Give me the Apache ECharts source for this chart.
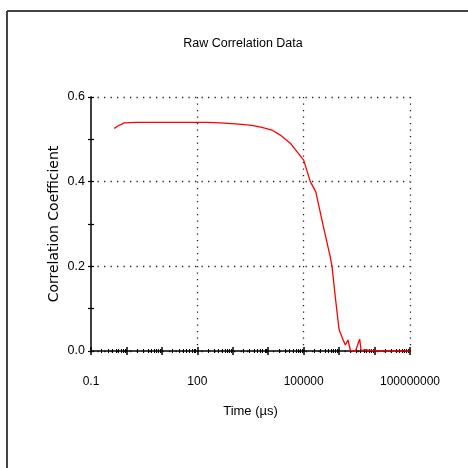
<!DOCTYPE html>
<html>
<head>
<meta charset="utf-8">
<script src="https://cdn.jsdelivr.net/npm/echarts@6/dist/echarts.min.js"></script>
<style>html,body{margin:0;padding:0;background:#fff;}#chart{width:468px;height:468px;}</style>
</head>
<body>
<div id="chart"></div>
<script>
// Lag time in microseconds
const timeUs = [0.45, 0.59, 0.87, 2, 10, 50, 200, 440, 480, 1500, 3470, 6640, 12700, 21900, 41900, 64800,
  100000, 154000, 220000, 360000, 560000, 630000, 780000, 1000000, 1300000, 1500000, 1780000, 2100000,
  2900000, 3800000, 4200000, 5000000, 10000000, 30000000, 100000000];
// Correlation coefficient
const corr = [0.526, 0.532, 0.539, 0.540, 0.540, 0.540, 0.540, 0.539, 0.537, 0.536, 0.533, 0.528, 0.522, 0.510, 0.491, 0.471,
  0.451, 0.400, 0.376, 0.294, 0.223, 0.200, 0.128, 0.050, 0.026, 0.014, 0.026, 0.000,
  0.000, 0.028, 0.000, 0.003, 0.000, 0.000, 0.000];
const xTickLabels = ['0.1', '100', '100000', '100000000'];
const xLabelValues = [0.1, 100, 100000, 100000000];
const yTickLabels = ['0.0', '0.2', '0.4', '0.6'];
const titleText = 'Raw Correlation Data';
const xName = 'Time (\u00b5s)';
const yName = 'Correlation Coefficient';

const sans = "'Liberation Sans', Arial, sans-serif";
const xMinExp = -1, xMaxExp = 8;
const labelExp = xLabelValues.map(v => Math.round(Math.log10(v)));
const decadeExp = [];
for (let e = xMinExp; e <= xMaxExp; e++) decadeExp.push(e);
const minorExp = [];
for (let e = xMinExp; e < xMaxExp; e++) for (let k = 2; k <= 9; k++) minorExp.push(e + Math.log10(k));

const grid = {left: 91, top: 97, width: 319, height: 254};
const dotted = {color: '#222', width: 1.3, type: [1.3, 5.2]};
function decoAxis(extra) {
  return Object.assign({
    type: 'value', min: xMinExp, max: xMaxExp, position: 'bottom',
    axisLine: {show: false, onZero: false},
    axisLabel: {show: false}, axisTick: {show: false}, splitLine: {show: false}
  }, extra);
}
const option = {
  animation: false,
  backgroundColor: '#fff',
  title: {text: titleText, left: 238, top: 32, textAlign: 'center',
    textStyle: {fontFamily: sans, fontSize: 12.5, fontWeight: 'normal', color: '#000'}},
  grid: grid,
  graphic: [
    {type: 'line', shape: {x1: 7, y1: 11, x2: 468, y2: 11}, style: {stroke: '#444', lineWidth: 2}},
    {type: 'line', shape: {x1: 7, y1: 11, x2: 7, y2: 468}, style: {stroke: '#444', lineWidth: 2}}
  ],
  xAxis: [
    {type: 'log', logBase: 10, min: 0.1, max: 100000000, position: 'bottom',
      name: xName, nameLocation: 'middle', nameGap: 54,
      nameTextStyle: {fontFamily: sans, fontSize: 13, color: '#000'},
      axisLine: {show: true, onZero: false, lineStyle: {color: '#000', width: 1.5}},
      axisLabel: {show: false}, axisTick: {show: false}, splitLine: {show: false}, minorTick: {show: false}},
    decoAxis({axisLabel: {show: true, customValues: labelExp, margin: 25,
      fontFamily: sans, fontSize: 12, color: '#000',
      formatter: v => xTickLabels[labelExp.indexOf(Math.round(v))] || ''}}),
    decoAxis({axisTick: {show: true, customValues: decadeExp, length: 4, lineStyle: {color: '#000', width: 1.5}}}),
    decoAxis({axisTick: {show: true, inside: true, customValues: decadeExp, length: 4, lineStyle: {color: '#000', width: 1.5}}}),
    decoAxis({axisTick: {show: true, customValues: minorExp, length: 2, lineStyle: {color: '#000', width: 1}}}),
    decoAxis({axisTick: {show: true, inside: true, customValues: minorExp, length: 2, lineStyle: {color: '#000', width: 1}}}),
    decoAxis({axisTick: {show: false, customValues: labelExp.slice(1)}, splitLine: {show: true, lineStyle: dotted}})
  ],
  yAxis: [
    {type: 'value', min: 0, max: 0.6, interval: 0.2, position: 'left',
      name: yName, nameLocation: 'middle', nameGap: 30, nameRotate: 90, nameMoveOverlap: false,
      nameTextStyle: {fontFamily: "'DejaVu Sans', sans-serif", fontSize: 14, color: '#000'},
      axisLine: {show: true, onZero: false, lineStyle: {color: '#000', width: 1.5}},
      axisTick: {show: true, length: 3, lineStyle: {color: '#000', width: 1.2}},
      minorTick: {show: true, splitNumber: 2, length: 3, lineStyle: {color: '#000', width: 1.2}},
      axisLabel: {margin: 6, fontFamily: sans, fontSize: 12.5, color: '#000',
        formatter: v => yTickLabels[Math.round(v / 0.2)]},
      splitLine: {show: true, lineStyle: dotted}},
    {type: 'value', min: 0, max: 0.6, interval: 0.2, position: 'left',
      axisLine: {show: false, onZero: false},
      axisTick: {show: true, inside: true, length: 3, lineStyle: {color: '#000', width: 1.2}},
      minorTick: {show: true, splitNumber: 2, length: 3, lineStyle: {color: '#000', width: 1.2}},
      axisLabel: {show: false}, splitLine: {show: false}}
  ],
  series: [{
    type: 'line', xAxisIndex: 0, yAxisIndex: 0,
    data: timeUs.map((t, i) => [t, corr[i]]),
    showSymbol: false, symbol: 'none',
    lineStyle: {color: '#ff0000', width: 1.3}, itemStyle: {color: '#ff0000'}
  }]
};
const chart = echarts.init(document.getElementById('chart'), null, {renderer: 'canvas'});
chart.setOption(option);
</script>
</body>
</html>
